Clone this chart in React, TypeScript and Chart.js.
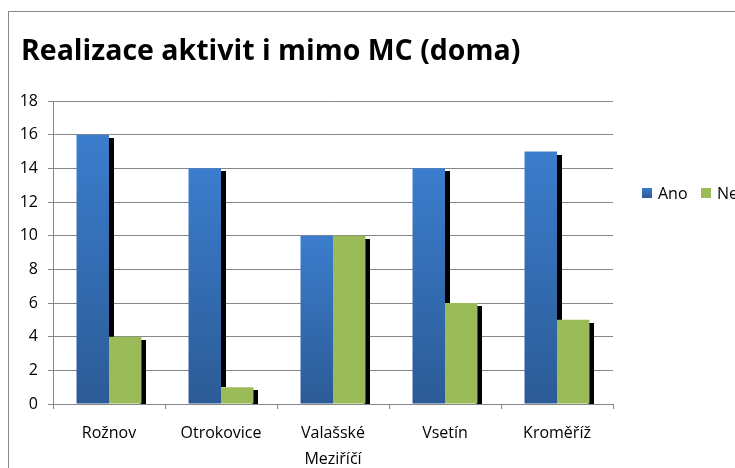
import React, { useEffect, useRef } from 'react';
import { Chart, registerables } from 'chart.js';

Chart.register(...registerables);

const chartTitle = 'Realizace aktivit i mimo MC (doma)';
const categories: (string | string[])[] = ['Rožnov', 'Otrokovice', ['Valašské', 'Meziříčí'], 'Vsetín', 'Kroměříž'];
const seriesNames = ['Ano', 'Ne'];
const anoValues = [16, 14, 10, 14, 15];
const neValues = [4, 1, 10, 6, 5];
const yMin = 0;
const yMax = 18;
const yStep = 2;

const FONT = '"Open Sans", Lato, sans-serif';
const GRID = '#868686';
const BLUE_TOP = '#3b7dcd';
const BLUE_BOTTOM = '#2c5b96';
const GREEN = '#9bbb59';
const SHADOW_DX = 5;
const SHADOW_DY = 3;

const blueFill = (c: any) => {
  const chart = c.chart;
  const ca = chart.chartArea;
  if (!ca || c.type !== 'data' || !chart.scales.y) return '#3570b8';
  const top = chart.scales.y.getPixelForValue(c.parsed.y);
  const g = chart.ctx.createLinearGradient(0, top, 0, ca.bottom);
  g.addColorStop(0, BLUE_TOP);
  g.addColorStop(1, BLUE_BOTTOM);
  return g;
};

// Draws the black drop shadow strip to the right of each bar, from the bars' own geometry.
const shadowPlugin = {
  id: 'barShadow',
  beforeDatasetsDraw(chart: any) {
    const { ctx, chartArea } = chart;
    const metas = chart.data.datasets.map((_: any, i: number) => chart.getDatasetMeta(i));
    ctx.save();
    ctx.beginPath();
    ctx.rect(chartArea.left, chartArea.top, chartArea.right - chartArea.left, chartArea.bottom - chartArea.top);
    ctx.clip();
    ctx.fillStyle = '#000000';
    metas.forEach((meta: any, di: number) => {
      meta.data.forEach((el: any, j: number) => {
        const p = el.getProps(['x', 'y', 'base', 'width'], true);
        const right = p.x + p.width / 2;
        const top = p.y + SHADOW_DY;
        let bottom = p.base;
        const next = metas[di + 1];
        if (next && next.data[j]) {
          const q = next.data[j].getProps(['x', 'y', 'width'], true);
          const nextLeft = q.x - q.width / 2;
          if (nextLeft <= right + 1) bottom = Math.min(bottom, q.y);
        }
        if (bottom > top) {
          const x0 = Math.round(right) - 1;
          ctx.fillRect(x0, Math.round(top), SHADOW_DX + 1, Math.round(bottom) - Math.round(top));
        }
      });
    });
    ctx.restore();
  },
};

const rowLegendPlugin = {
  id: 'rowLegend',
  afterDraw(chart: any) {
    const { ctx, chartArea } = chart;
    const cy = chartArea.top + 92;
    let x = chartArea.right + 29;
    const colors = [null, GREEN];
    ctx.save();
    ctx.font = `16px ${FONT}`;
    ctx.textBaseline = 'middle';
    ctx.textAlign = 'left';
    chart.data.datasets.forEach((ds: any, i: number) => {
      if (i === 0) {
        const g = ctx.createLinearGradient(0, cy - 5, 0, cy + 5);
        g.addColorStop(0, BLUE_TOP);
        g.addColorStop(1, BLUE_BOTTOM);
        ctx.fillStyle = g;
      } else {
        ctx.fillStyle = colors[i] as string;
      }
      ctx.fillRect(x, cy - 5, 10, 10);
      ctx.fillStyle = '#000000';
      ctx.fillText(ds.label, x + 16, cy + 1);
      x += 59;
    });
    ctx.restore();
  },
};

export default function App() {
  const canvasRef = useRef<HTMLCanvasElement | null>(null);

  useEffect(() => {
    if (!canvasRef.current) return;
    const chart = new Chart(canvasRef.current, {
      type: 'bar',
      data: {
        labels: categories as any,
        datasets: [
          {
            label: seriesNames[0],
            data: anoValues,
            backgroundColor: blueFill as any,
            borderWidth: 0,
            categoryPercentage: 0.58,
            barPercentage: 1,
            clip: 0 as any,
          },
          {
            label: seriesNames[1],
            data: neValues,
            backgroundColor: GREEN,
            borderWidth: 0,
            categoryPercentage: 0.58,
            barPercentage: 1,
            clip: 0 as any,
          },
        ],
      },
      options: {
        responsive: false,
        animation: false,
        devicePixelRatio: 1,
        layout: { padding: { left: 12, right: 122, top: 0, bottom: 0 } },
        plugins: {
          legend: { display: false },
          tooltip: { enabled: false },
          title: {
            display: true,
            text: chartTitle,
            align: 'start',
            color: '#000000',
            font: { family: FONT, size: 28.5, weight: 'bold', lineHeight: 1.2 },
            padding: { top: 23, bottom: 31.8 },
          },
        },
        scales: {
          x: {
            offset: true,
            grid: {
              display: true,
              offset: true,
              drawOnChartArea: false,
              drawTicks: true,
              tickLength: 5,
              color: GRID,
            },
            border: { display: true, color: GRID, width: 1 },
            ticks: {
              color: '#000000',
              font: { family: FONT, size: 16, lineHeight: 1.65 },
              padding: 11,
              maxRotation: 0,
              autoSkip: false,
            },
            afterFit: (s: any) => {
              s.height = 64;
            },
          },
          y: {
            min: yMin,
            max: yMax,
            grid: {
              color: GRID,
              tickLength: 5,
              drawTicks: true,
            },
            border: { display: true, color: GRID, width: 1 },
            ticks: {
              stepSize: yStep,
              color: '#000000',
              font: { family: FONT, size: 16 },
              padding: 10,
            },
            afterFit: (s: any) => {
              s.width = 32;
            },
          },
        },
      },
      plugins: [shadowPlugin, rowLegendPlugin],
    });
    return () => chart.destroy();
  }, []);

  return (
    <div
      style={{
        position: 'fixed',
        left: 8,
        top: 11,
        width: 800,
        height: 500,
        borderLeft: '1px solid #888888',
        borderTop: '1px solid #888888',
        background: '#ffffff',
      }}
    >
      <canvas ref={canvasRef} width={726} height={456} style={{ display: 'block' }} />
    </div>
  );
}
